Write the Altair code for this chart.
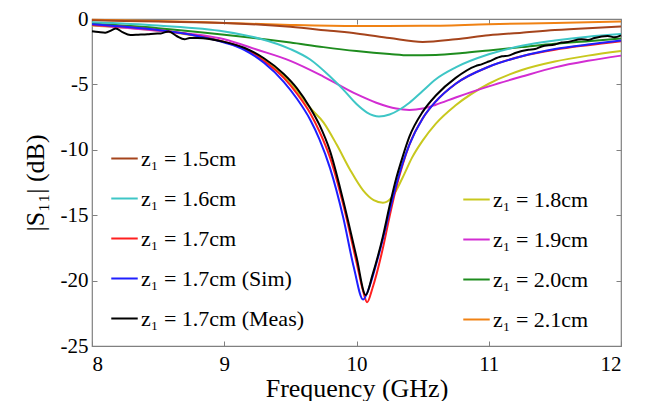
import altair as alt
import pandas as pd

# ---- series labels and colours ----
labels_left = ["z₁ = 1.5cm", "z₁ = 1.6cm", "z₁ = 1.7cm", "z₁ = 1.7cm (Sim)", "z₁ = 1.7cm (Meas)"]
colors_left = ["#a5441c", "#3ec6c6", "#ff1f1f", "#1f1fff", "#000000"]
labels_right = ["z₁ = 1.8cm", "z₁ = 1.9cm", "z₁ = 2.0cm", "z₁ = 2.1cm"]
colors_right = ["#c8c81e", "#d22dd2", "#1e8c1e", "#f08214"]

x_ticks = [8, 9, 10, 11, 12]
y_ticks = [-25, -20, -15, -10, -5, 0]

# ---- data (GHz, dB) ----
f_15 = [8, 8.5, 9, 9.5, 9.8, 10, 10.25, 10.5, 10.75, 11, 11.25, 11.5, 11.75, 12]
s_15 = [-0.1, -0.2, -0.3, -0.6, -0.9, -1.1, -1.45, -1.75, -1.55, -1.25, -1.05, -0.85, -0.7, -0.58]

f_16 = [8, 8.5, 9, 9.25, 9.5, 9.65, 9.8, 9.9, 10.0, 10.08, 10.17, 10.25, 10.33, 10.4, 10.5, 10.6, 10.75, 11, 11.25, 11.5, 11.75, 12]
s_16 = [-0.25, -0.5, -0.95, -1.45, -2.3, -3.1, -4.4, -5.4, -6.5, -7.15, -7.45, -7.3, -6.9, -6.4, -5.5, -4.6, -3.7, -2.7, -2.05, -1.65, -1.35, -1.15]

f_17 = [8, 8.25, 8.5, 8.75, 9, 9.15, 9.3, 9.45, 9.55, 9.65, 9.72, 9.8, 9.9, 10.0, 10.05, 10.08, 10.12, 10.2, 10.25, 10.3, 10.35, 10.4, 10.5, 10.6, 10.75, 11, 11.25, 11.5, 11.75, 12]
s_17 = [-0.45, -0.6, -0.85, -1.2, -1.75, -2.25, -3.2, -4.5, -5.7, -7.2, -8.6, -10.6, -14.2, -18.6, -20.8, -21.65, -20.6, -17.5, -15.1, -12.9, -11.1, -9.6, -7.6, -6.3, -4.95, -3.65, -2.85, -2.35, -2.0, -1.7]

f_sim = [8, 8.25, 8.5, 8.75, 9, 9.15, 9.3, 9.45, 9.55, 9.65, 9.72, 9.8, 9.9, 9.98, 10.05, 10.1, 10.15, 10.2, 10.25, 10.3, 10.35, 10.4, 10.5, 10.6, 10.75, 11, 11.25, 11.5, 11.75, 12]
s_sim = [-0.4, -0.6, -0.85, -1.2, -1.8, -2.35, -3.35, -4.8, -6.1, -7.7, -9.2, -11.4, -15.2, -19.0, -21.45, -20.4, -18.7, -16.8, -14.7, -12.7, -11.0, -9.6, -7.6, -6.3, -4.95, -3.65, -2.85, -2.3, -1.95, -1.65]

f_meas = [8.0, 8.05, 8.1, 8.15, 8.18, 8.23, 8.29, 8.35, 8.42, 8.47, 8.52, 8.58, 8.64, 8.7, 8.74, 8.8, 9, 9.15, 9.3, 9.45, 9.55, 9.65, 9.72, 9.8, 9.9, 10.0, 10.07, 10.12, 10.2, 10.25, 10.3, 10.35, 10.4, 10.5, 10.6, 10.75, 10.9, 10.95, 11, 11.1, 11.15, 11.2, 11.3, 11.35, 11.4, 11.5, 11.55, 11.6, 11.7, 11.75, 11.8, 11.9, 11.95, 12]
s_meas = [-0.93, -1.0, -1.05, -0.85, -0.72, -1.0, -1.22, -1.2, -1.17, -1.12, -1.1, -0.95, -1.3, -1.55, -1.45, -1.45, -1.75, -2.2, -3.0, -4.2, -5.3, -6.8, -8.1, -10.1, -13.9, -18.2, -21.1, -19.6, -16.6, -14.3, -12.2, -10.5, -9.0, -7.1, -5.85, -4.5, -3.6, -3.45, -3.25, -2.85, -2.8, -2.6, -2.35, -2.3, -2.1, -1.95, -1.8, -1.75, -1.55, -1.6, -1.45, -1.3, -1.4, -1.25]

f_18 = [8, 8.5, 9, 9.2, 9.4, 9.55, 9.65, 9.75, 9.85, 9.95, 10.05, 10.13, 10.2, 10.27, 10.35, 10.42, 10.5, 10.6, 10.75, 11, 11.25, 11.5, 11.75, 12]
s_18 = [-0.5, -0.9, -1.75, -2.5, -3.9, -5.5, -6.8, -7.9, -9.6, -11.5, -13.1, -13.85, -14.05, -13.6, -12.1, -10.6, -9.3, -8.0, -6.6, -4.95, -3.9, -3.25, -2.8, -2.45]

f_19 = [8, 8.5, 9, 9.25, 9.5, 9.75, 10.0, 10.15, 10.3, 10.4, 10.5, 10.6, 10.75, 11, 11.25, 11.5, 11.75, 12]
s_19 = [-0.45, -0.9, -1.55, -2.35, -3.2, -4.4, -5.75, -6.4, -6.85, -6.95, -6.85, -6.55, -6.0, -5.15, -4.4, -3.7, -3.2, -2.8]

f_20 = [8, 8.5, 9, 9.5, 9.75, 10, 10.25, 10.4, 10.6, 10.8, 11, 11.25, 11.5, 11.75, 12]
s_20 = [-0.35, -0.7, -1.2, -1.8, -2.15, -2.45, -2.68, -2.78, -2.75, -2.6, -2.4, -2.15, -1.9, -1.7, -1.5]

f_21 = [8, 8.5, 9, 9.5, 10, 10.5, 11, 11.5, 12]
s_21 = [-0.05, -0.15, -0.3, -0.45, -0.53, -0.52, -0.4, -0.3, -0.2]

left_series = [(f_15, s_15), (f_16, s_16), (f_17, s_17), (f_sim, s_sim), (f_meas, s_meas)]
right_series = [(f_18, s_18), (f_19, s_19), (f_20, s_20), (f_21, s_21)]


def build(labels, series):
    rows = []
    for lab, (fs, ss) in zip(labels, series):
        for i, (f, s) in enumerate(zip(fs, ss)):
            rows.append({"series": lab, "f": f, "db": s, "i": i})
    return pd.DataFrame(rows)


df_left = build(labels_left, left_series)
df_right = build(labels_right, right_series)

FONT = "Times New Roman, Liberation Serif, serif"
GRAY = "#808080"
LABEL_EXPR = "'' + datum.value"

xscale = alt.Scale(domain=[8, 12], nice=False)
yscale = alt.Scale(domain=[-25, 0], nice=False)

legend_common = dict(
    orient="none",
    title=None,
    symbolType="stroke",
    symbolSize=700,
    symbolStrokeWidth=2,
    labelFont=FONT,
    labelFontSize=22,
    labelOffset=2,
    labelLimit=400,
    rowPadding=14,
    padding=0,
)

right_layer = alt.Chart(df_right).mark_line(strokeWidth=2, interpolate="monotone").encode(
    x=alt.X("f:Q", scale=xscale,
            axis=alt.Axis(orient="top", values=x_ticks, offset=-5, tickSize=5, domain=False,
                          grid=False, labels=False, title="", tickColor=GRAY)),
    y=alt.Y("db:Q", scale=yscale,
            axis=alt.Axis(orient="right", values=y_ticks, offset=-5, tickSize=5, domain=False,
                          grid=False, labels=False, title="", tickColor=GRAY)),
    color=alt.Color("series:N",
                    scale=alt.Scale(domain=labels_right, range=colors_right),
                    sort=labels_right,
                    legend=alt.Legend(legendX=370, legendY=166, **legend_common)),
    detail="series:N",
    order="i:Q",
)

left_layer = alt.Chart(df_left).mark_line(strokeWidth=2, interpolate="monotone").encode(
    x=alt.X("f:Q", scale=xscale,
            axis=alt.Axis(orient="bottom", values=x_ticks, offset=-5, tickSize=5, domain=False,
                          grid=False, labelFont=FONT, labelFontSize=21, labelPadding=7,
                          labelExpr=LABEL_EXPR,
                          labelColor="#000000", tickColor=GRAY,
                          title="Frequency (GHz)", titleFont=FONT, titleFontSize=26,
                          titleFontWeight="normal", titleColor="#000000", titlePadding=1)),
    y=alt.Y("db:Q", scale=yscale,
            axis=alt.Axis(orient="left", values=y_ticks, offset=-5, tickSize=5, domain=False,
                          grid=False, labelFont=FONT, labelFontSize=21, labelPadding=4,
                          labelExpr=LABEL_EXPR,
                          labelColor="#000000", tickColor=GRAY,
                          title="|S₁₁| (dB)", titleFont=FONT, titleFontSize=26,
                          titleFontWeight="normal", titleColor="#000000", titlePadding=12)),
    color=alt.Color("series:N",
                    scale=alt.Scale(domain=labels_left, range=colors_left),
                    sort=labels_left,
                    legend=alt.Legend(legendX=18, legendY=125, **legend_common)),
    detail="series:N",
    order="i:Q",
)

chart = alt.layer(right_layer, left_layer).resolve_scale(
    color="independent"
).resolve_axis(
    x="independent", y="independent"
).properties(
    width=529,
    height=327,
    autosize=alt.AutoSizeParams(type="none"),
    padding={"left": 92, "top": 19, "right": 25, "bottom": 55},
    background="#ffffff",
).configure_view(
    stroke=GRAY, strokeWidth=1.2
)

chart.save("out.html", embed_options={"renderer": "svg", "actions": False})
